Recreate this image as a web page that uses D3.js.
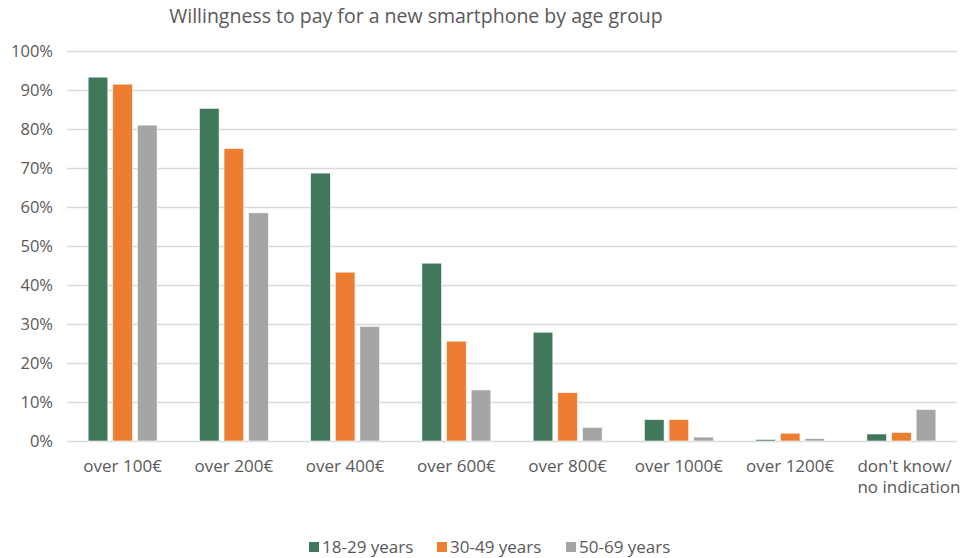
<!DOCTYPE html>
<html><head><meta charset="utf-8">
<script src="https://cdn.jsdelivr.net/npm/d3@7"></script>
<style>body{margin:0;background:#fff;} text{font-family:"Open Sans",sans-serif;fill:#595959;}</style>
</head><body><svg id="c" width="972" height="558"></svg>
<script>
const categories = ["over 100€","over 200€","over 400€","over 600€","over 800€","over 1000€","over 1200€","don't know/\nno indication"];
const seriesNames = ["18-29 years","30-49 years","50-69 years"];
const age18_29 = [93.3,85.3,68.7,45.6,27.9,5.5,0.4,1.8];
const age30_49 = [91.5,75.0,43.3,25.6,12.4,5.5,2.0,2.2];
const age50_69 = [81.0,58.5,29.4,13.1,3.5,1.0,0.6,8.1];
const colors = ["#41775a","#ed7d31","#a5a5a5"];
const yTicks = [0,10,20,30,40,50,60,70,80,90,100];
const title = "Willingness to pay for a new smartphone by age group";

const series = [age18_29, age30_49, age50_69];
const svg = d3.select("#c");
const x0 = d3.scaleBand().domain(categories).range([67,957]).paddingInner(0.38).paddingOuter(0.19);
const x1 = d3.scaleBand().domain(seriesNames).range([0,x0.bandwidth()]).paddingInner(0.2);
const y = d3.scaleLinear().domain([0,100]).range([441,51]);

svg.append("text").attr("x",416).attr("y",23).attr("text-anchor","middle").style("font-size","19.5px").text(title);

const yAxis = d3.axisLeft(y).tickValues(yTicks).tickFormat(d=>d+"%").tickSize(-(957-67)).tickPadding(14);
const ga = svg.append("g").attr("transform","translate(67,0)").call(yAxis);
ga.select(".domain").remove();
ga.selectAll(".tick line").attr("stroke","#d9d9d9").attr("stroke-width",1.3);
ga.selectAll(".tick text").style("font-size","16.5px").attr("fill","#595959").style("font-family","'Open Sans',sans-serif");

const g = svg.append("g");
categories.forEach((c,i)=>{
  series.forEach((s,j)=>{
    g.append("rect").attr("x",x0(c)+x1(seriesNames[j])).attr("width",x1.bandwidth())
     .attr("y",y(s[i])).attr("height",y(0)-y(s[i])).attr("fill",colors[j])
     .attr("stroke","#fff").attr("stroke-width",0.6);
  });
  const lines = c.split("\n");
  const multi = lines.length > 1;
  const cx = x0(c)+x0.bandwidth()/2 - (multi ? 44 : 0);
  const t = svg.append("text").attr("x",cx).attr("y",472).attr("text-anchor",multi?"start":"middle").style("font-size","17px");
  lines.forEach((l,k)=>t.append("tspan").attr("x",cx).attr("dy",k?21:0).text(l));
});

const legX = [309,437,566];
seriesNames.forEach((n,j)=>{
  svg.append("rect").attr("x",legX[j]).attr("y",542).attr("width",10).attr("height",10).attr("fill",colors[j]);
  svg.append("text").attr("x",legX[j]+13).attr("y",553).style("font-size","17px").text(n);
});
</script></body></html>
